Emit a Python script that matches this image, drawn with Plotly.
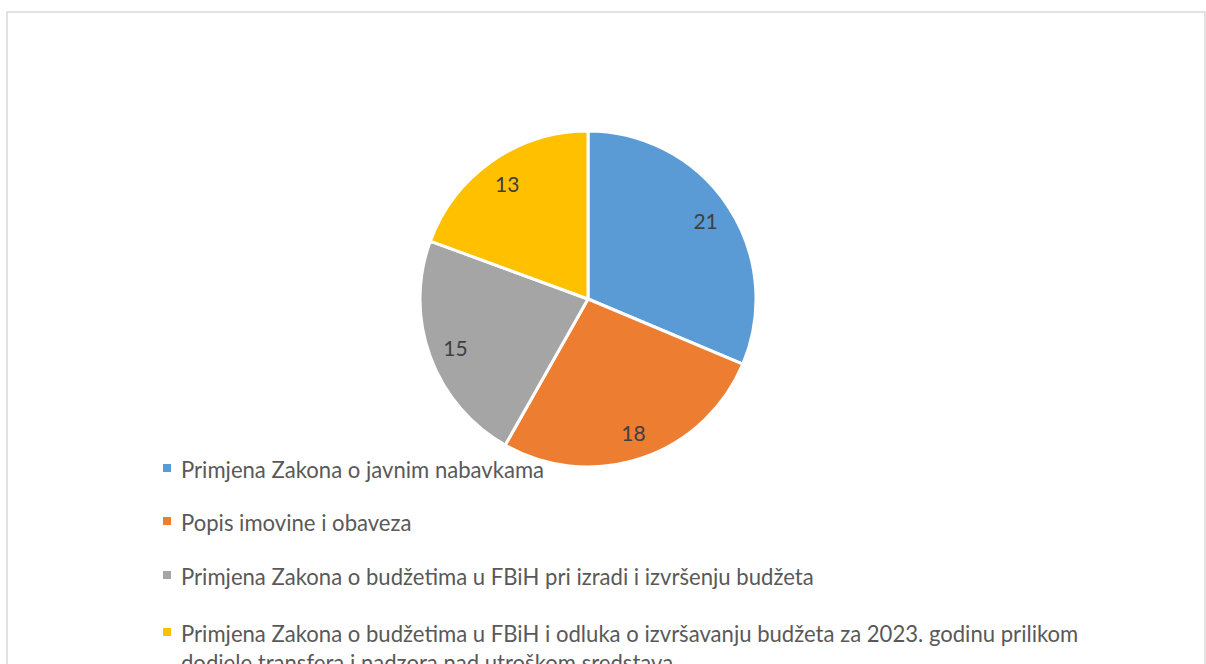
import plotly.graph_objects as go

# slice data
labels = [
    "Primjena Zakona o javnim nabavkama",
    "Popis imovine i obaveza",
    "Primjena Zakona o budžetima u FBiH pri izradi i izvršenju budžeta",
    "Primjena Zakona o budžetima u FBiH i odluka o izvršavanju budžeta za 2023. godinu prilikom<br>dodjele transfera i nadzora nad utroškom sredstava",
]
values = [21, 18, 15, 13]
colors = ["#5B9BD5", "#ED7D31", "#A5A5A5", "#FFC000"]

W, H = 1206, 664
FONT = "Lato"
pie_domain = dict(x=[420 / W, 756 / W], y=[1 - 467 / H, 1 - 131 / H])

fig = go.Figure()
# the coloured slices
fig.add_trace(go.Pie(
    labels=labels, values=values,
    sort=False, direction="clockwise", rotation=0,
    marker=dict(colors=colors, line=dict(color="white", width=3)),
    textinfo="none",
    domain=pie_domain,
    showlegend=False, hoverinfo="label+value",
))
# transparent ring on top, only to push the value labels outward
fig.add_trace(go.Pie(
    labels=labels, values=values, hole=0.68,
    sort=False, direction="clockwise", rotation=0,
    marker=dict(colors=["rgba(0,0,0,0)"] * len(values), line=dict(width=0)),
    textinfo="value", textposition="inside",
    insidetextorientation="horizontal",
    textfont=dict(family=FONT, size=21, color="#404040"),
    domain=pie_domain,
    showlegend=False, hoverinfo="skip",
))

# legend drawn by hand so the spacing matches
legend_y = [468, 521, 575, 632]
shapes = [dict(type="rect", xref="paper", yref="paper",
               x0=7 / W, x1=1205 / W, y0=-0.05, y1=1 - 12 / H,
               line=dict(color="#d9d9d9", width=1.5), fillcolor="rgba(0,0,0,0)")]
annotations = []
for lab, col, yc in zip(labels, colors, legend_y):
    shapes.append(dict(type="rect", xref="paper", yref="paper",
                       x0=163 / W, x1=171 / W,
                       y0=1 - (yc + 4) / H, y1=1 - (yc - 4) / H,
                       line=dict(width=0), fillcolor=col))
    annotations.append(dict(xref="paper", yref="paper",
                            x=179 / W, y=1 - (yc - 14.5) / H,
                            xanchor="left", yanchor="top", align="left",
                            text=lab, showarrow=False,
                            font=dict(family=FONT, size=22.1, color="#595959")))

fig.update_layout(
    width=W, height=H,
    margin=dict(l=0, r=0, t=0, b=0),
    paper_bgcolor="white", plot_bgcolor="white",
    shapes=shapes, annotations=annotations,
)

fig.write_html("out.html", config={"displayModeBar": False},
               post_script="document.body.style.margin='0';")
